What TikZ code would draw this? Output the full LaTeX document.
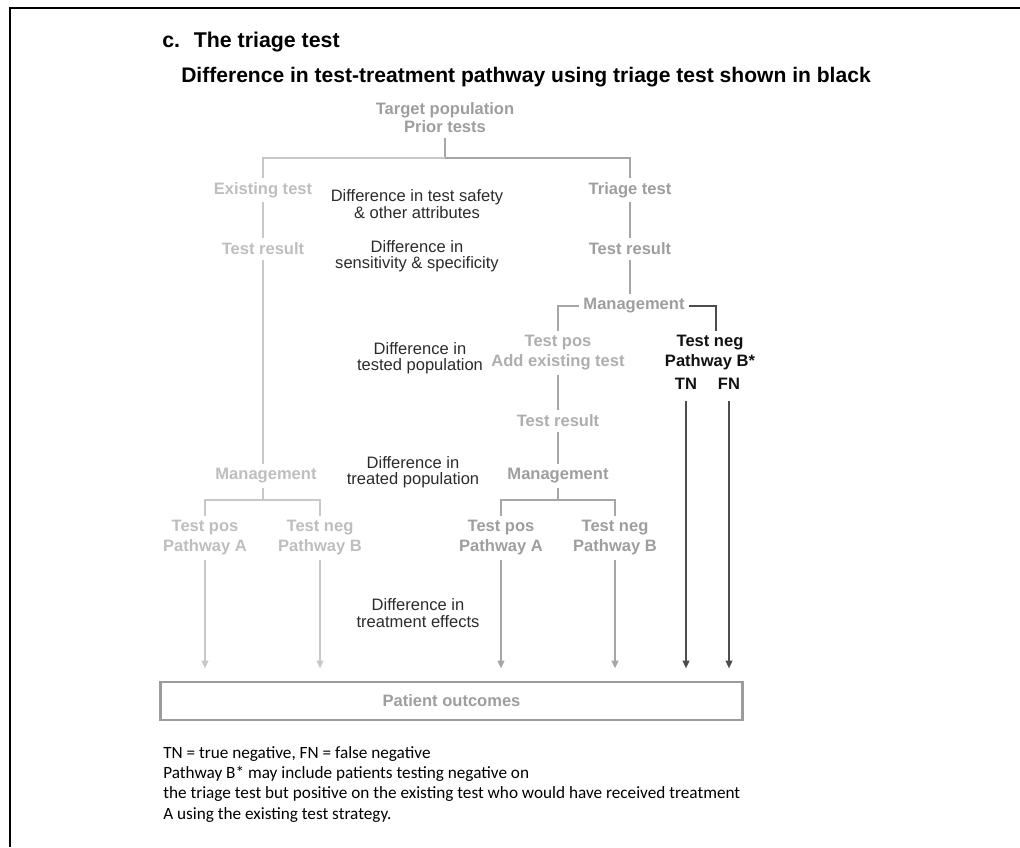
\documentclass[tikz,border=0pt]{standalone}
\usepackage{fontspec}
\setmainfont{Liberation Sans}
\newfontfamily\footfont{Carlito}
\usetikzlibrary{arrows.meta}
\definecolor{ltx}{HTML}{BEBEBE}
\definecolor{ltl}{HTML}{C8C8C8}
\definecolor{mdx}{HTML}{9E9E9E}
\definecolor{mdl}{HTML}{A6A6A6}
\definecolor{pmx}{HTML}{AEAEAE}
\definecolor{dkl}{HTML}{4D4D4D}
\definecolor{blk}{HTML}{111111}
\definecolor{dfx}{HTML}{2B2B2B}
\definecolor{bxl}{HTML}{9C9C9C}
\tikzset{
  lbl/.style={inner sep=0pt, outer sep=3.5pt, align=center, font=\fontsize{12.4}{15}\selectfont\bfseries},
  dif/.style={inner sep=0pt, align=center, text=dfx, font=\fontsize{12.4}{12.4}\selectfont},
  ln/.style={line width=2.2pt},
  arr/.style={line width=1.5pt, -{Triangle[length=6pt,width=5pt]}, shorten >=9pt},
  foot/.style={anchor=west, inner sep=0pt, font=\footfont\fontsize{12.9}{15}\selectfont}
}
\begin{document}
\begin{tikzpicture}[x=0.75pt,y=-0.75pt]
\useasboundingbox (0,0) rectangle (1020,847);
\draw[line width=2.2pt] (10,847) -- (10,8) -- (1020,8);

% titles
\node[anchor=west, inner sep=0pt, font=\fontsize{16}{18}\selectfont\bfseries] (title) at (162,42) {c.~ The triage test};
\node[anchor=west, inner sep=0pt, font=\fontsize{15.8}{18}\selectfont\bfseries] (sub) at (181,77) {Difference in test-treatment pathway using triage test shown in black};

% top
\node[lbl, text=mdx, font=\fontsize{12.4}{13.5}\selectfont\bfseries] (tp) at (445,118) {Target population\\Prior tests};
\node[lbl, text=ltx] (ext) at (263,190) {Existing test};
\node[lbl, text=mdx] (tri) at (630,190) {Triage test};
\coordinate (j0) at (445,158);
\draw[ln, mdl] (tp.south) -- (j0) -| (tri.north);
\draw[ln, ltl] (j0) -| (ext.north);

% existing test column
\node[lbl, text=ltx] (exr) at (263,249) {Test result};
\node[lbl, text=ltx] (exm) at (266,476) {Management};
\draw[ln, ltl] (ext) -- (exr);
\draw[ln, ltl] (exr.south) -- (exr.south |- exm.north);
\coordinate (j1) at (263,500);
\draw[ln, ltl] (exr.south |- exm.south) -- (j1);
\node[lbl, text=ltx] (posl) at (205,538) {Test pos\\Pathway A};
\node[lbl, text=ltx] (negl) at (320,538) {Test neg\\Pathway B};
\draw[ln, ltl] (posl.north) |- (j1) -| (negl.north);

% triage column
\node[lbl, text=mdx] (trr) at (630,249) {Test result};
\node[lbl, text=mdx] (trm) at (634,306) {Management};
\draw[ln, mdl] (tri) -- (trr);
\draw[ln, mdl] (trr.south) -- (trr.south |- trm.north);
\node[lbl, text=pmx] (pos1) at (558,353) {Test pos\\Add existing test};
\node[lbl, text=blk] (neg1) at (710,353) {Test neg\\Pathway B*};
\node[lbl, text=blk] (tn) at (686,384) {TN};
\node[lbl, text=blk] (fnn) at (729,384) {FN};
\draw[ln, mdl] (trm.west) -| (pos1.north);
\draw[ln, dkl] (trm.east) -| ([xshift=4.5pt]neg1.north);

\node[lbl, text=pmx] (r2) at (558,421) {Test result};
\node[lbl, text=mdx] (m2) at (558,476) {Management};
\draw[ln, mdl] (pos1) -- (r2);
\draw[ln, mdl] (r2) -- (m2);
\coordinate (j2) at (558,500);
\draw[ln, mdl] (m2) -- (j2);
\node[lbl, text=mdx] (posa) at (501,538) {Test pos\\Pathway A};
\node[lbl, text=mdx] (negb) at (615,538) {Test neg\\Pathway B};
\draw[ln, mdl] (posa.north) |- (j2) -| (negb.north);

% outcome box
\node[draw=bxl, line width=2.2pt, minimum width=437pt, minimum height=28.5pt, inner sep=0pt,
      text=mdx, font=\fontsize{12.4}{15}\selectfont\bfseries] (box) at (451.5,701) {Patient outcomes};

\draw[arr, ltl] (posl) -- (posl |- box.north);
\draw[arr, ltl] (negl) -- (negl |- box.north);
\draw[arr, mdl] (posa) -- (posa |- box.north);
\draw[arr, mdl] (negb) -- (negb |- box.north);
\draw[arr, dkl, shorten <=5pt] (tn) -- (tn |- box.north);
\draw[arr, dkl, shorten <=5pt] (fnn) -- (fnn |- box.north);

% difference labels
\node[dif] (d1) at (417,204) {Difference in test safety\\\& other attributes};
\node[dif] (d2) at (417,256) {Difference in\\sensitivity \& specificity};
\node[dif] (d3) at (420,358) {Difference in\\tested population};
\node[dif] (d4) at (413,472) {Difference in\\treated population};
\node[dif] (d5) at (418,613) {Difference in\\treatment effects};

% footnotes
\node[foot] (f1) at (163,754) {TN = true negative, FN = false negative};
\node[foot] (f2) at (163,774) {Pathway B* may include patients testing negative on};
\node[foot] (f3) at (163,794) {the triage test but positive on the existing test who would have received treatment};
\node[foot] (f4) at (163,815) {A using the existing test strategy.};
\end{tikzpicture}
\end{document}
